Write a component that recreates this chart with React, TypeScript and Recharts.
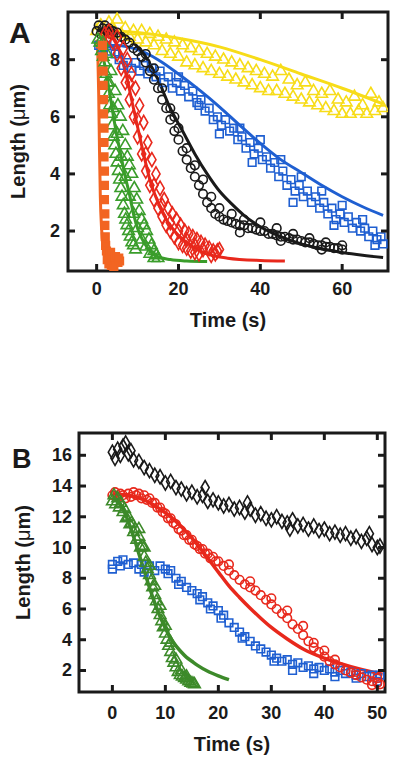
import {
  ComposedChart,
  Label,
  Line,
  ReferenceArea,
  Scatter,
  XAxis,
  YAxis,
  ZAxis,
} from "recharts";

// ---------- panel A : [time (s), length (um)] ----------
const aOrangePts = [
  [1.4, 8.5], [1.5, 8.1], [1.6, 7.6], [1.6, 7.1], [1.7, 6.6], [1.7, 6.1], [1.8, 5.6],
  [1.8, 5.1], [1.8, 4.6], [1.9, 4.1], [1.9, 3.6], [1.9, 3.1], [2.0, 2.6], [2.0, 2.2],
  [2.1, 1.8], [2.2, 1.5], [2.4, 1.3], [2.8, 1.2], [3.2, 1.1], [3.6, 1.0], [4.0, 0.95],
  [4.4, 0.9], [4.8, 0.95], [5.2, 0.9], [5.6, 0.95], [3.0, 0.85], [3.6, 0.8], [4.2, 0.75],
  [2.6, 1.0], [3.4, 1.25], [4.6, 1.1], [5.4, 1.05],
];
const aOrangeFit = [
  [0, 8.7], [0.3, 8.1], [0.5, 6.8], [0.7, 4.8], [0.9, 3.2], [1.2, 2.1], [1.6, 1.45],
  [2.2, 1.12], [3.5, 0.97], [5.5, 0.92],
];
const aGreenPts = [
  [0.3, 8.7], [0.8, 8.6], [1.2, 8.3], [1.6, 8.1], [2.0, 7.9], [2.3, 7.5], [2.6, 7.2],
  [2.9, 6.8], [3.2, 6.4], [3.5, 6.1], [3.8, 5.7], [4.1, 5.3], [4.4, 5.0], [4.7, 4.7],
  [5.0, 4.4], [5.3, 4.1], [5.6, 3.8], [5.9, 3.5], [6.2, 3.2], [6.5, 2.9], [6.8, 2.6],
  [7.1, 2.4], [7.4, 2.2], [7.8, 2.0], [8.2, 1.8], [8.6, 1.6], [9.0, 1.5], [9.5, 1.35],
  [1.5, 8.6], [2.5, 8.2], [3.5, 7.6], [4.5, 6.9], [5.2, 6.4], [5.8, 6.0], [6.4, 5.5],
  [7.0, 5.0], [7.5, 4.6], [8.0, 4.3], [8.6, 4.0], [9.2, 3.5], [9.8, 3.1], [10.4, 2.7],
  [11.0, 2.4], [11.6, 2.2], [12.2, 2.0], [12.8, 1.7], [13.4, 1.5], [14.0, 1.3],
  [14.6, 1.15], [15.0, 1.05], [3.0, 7.2], [4.0, 6.3], [5.0, 5.4], [6.0, 4.6], [7.0, 3.9],
  [8.0, 3.2], [9.0, 2.6], [10.0, 2.1], [11.0, 1.7], [12.0, 1.45], [13.0, 1.2], [14.0, 1.05],
];
const aGreenFit = [
  [0, 8.7], [1, 8.4], [2, 7.8], [3, 7.0], [4, 6.1], [5, 5.3], [6, 4.6], [7, 3.9], [8, 3.3],
  [9, 2.6], [10, 2.1], [11, 1.75], [12, 1.5], [13, 1.3], [15, 1.1], [18, 1.0], [22, 0.95],
  [27, 0.93],
];
const aRedPts = [
  [2, 8.9], [3, 8.8], [4, 8.6], [5, 8.2], [6, 7.7], [7, 7.2], [8, 6.6], [9, 6.0], [10, 5.3],
  [11, 4.7], [12, 4.1], [13, 3.6], [14, 3.1], [15, 2.8], [16, 2.5], [17, 2.2], [18, 2.0],
  [19, 1.8], [20, 1.6], [21, 1.5], [22, 1.4], [23, 1.3], [24, 1.25], [25, 1.2],
  [3, 9.0], [5, 8.8], [6.5, 8.4], [7.5, 8.0], [8.5, 7.5], [9.5, 7.0], [10.5, 6.4],
  [11.5, 5.8], [12.5, 5.1], [13.5, 4.5], [14.5, 4.0], [15.5, 3.5], [16.5, 3.1], [17.5, 2.8],
  [18.5, 2.6], [19.5, 2.4], [20.5, 2.2], [21.5, 2.0], [22.5, 1.9], [23.5, 1.8], [24.5, 1.7],
  [25.5, 1.6], [26.5, 1.5], [27.5, 1.4], [28.5, 1.3], [29.5, 1.3], [28, 1.15], [29, 1.2],
  [30, 1.35], [8, 7.2], [10, 5.9], [12, 4.7], [14, 3.6], [16, 2.9], [18, 2.3], [20, 2.0],
  [22, 1.7], [24, 1.5], [26, 1.35],
];
const aRedFit = [
  [0, 8.9], [3, 8.85], [5, 8.5], [7, 7.6], [9, 6.3], [11, 5.0], [13, 3.8], [15, 3.0],
  [17, 2.4], [19, 2.0], [22, 1.6], [26, 1.25], [32, 1.05], [40, 0.97], [46, 0.95],
];
const aBlackPts = [
  [0, 9.0], [0.5, 9.2], [1, 8.9], [1.5, 9.1], [2, 9.2], [2.5, 9.0], [3, 9.1], [3.5, 8.9],
  [4, 9.0], [5, 8.95], [6, 8.8], [7, 8.7], [8, 8.6], [9, 8.4], [10, 8.3], [11, 8.1],
  [12, 7.9], [13, 7.6], [14, 7.3], [15, 7.0], [16, 6.6], [17, 6.3], [18, 5.9], [19, 5.5],
  [20, 5.2], [21, 4.8], [22, 4.5], [23, 4.2], [24, 3.9], [25, 3.6], [26, 3.3], [27, 3.0],
  [28, 2.8], [29, 2.6], [30, 2.5], [31, 2.4], [32, 2.35], [33, 2.3], [34, 2.25], [35, 2.2],
  [36, 2.2], [37, 2.1], [38, 2.1], [39, 2.05], [40, 2.0], [41, 2.0], [42, 1.9], [43, 1.9],
  [44, 1.85], [45, 1.8], [46, 1.8], [47, 1.75], [48, 1.7], [49, 1.7], [50, 1.65], [51, 1.6],
  [52, 1.6], [53, 1.55], [54, 1.5], [55, 1.5], [56, 1.45], [57, 1.45], [58, 1.4], [59, 1.4],
  [60, 1.35], [12, 8.2], [14, 7.7], [16, 7.0], [18, 6.3], [19, 6.0], [20, 5.6], [22, 4.9],
  [24, 4.3], [26, 3.8], [28, 3.2], [30, 2.8], [33, 2.6], [36, 2.4], [40, 2.3], [44, 2.1],
  [48, 1.9], [52, 1.75], [56, 1.6], [60, 1.5], [35, 1.95], [45, 1.65], [55, 1.35],
];
const aBlackFit = [
  [0, 9.0], [3, 9.05], [6, 8.9], [9, 8.6], [12, 8.1], [15, 7.3], [18, 6.3], [21, 5.5],
  [24, 4.7], [27, 4.0], [30, 3.4], [33, 2.95], [36, 2.55], [40, 2.15], [45, 1.8],
  [50, 1.55], [55, 1.38], [60, 1.25], [65, 1.15], [70, 1.07],
];
const aBluePts = [
  [0.5, 8.5], [1.5, 8.4], [2.5, 8.5], [3.5, 8.3], [4.5, 8.2], [5.5, 8.0], [6.5, 7.8],
  [7.5, 7.9], [8.5, 7.7], [9.5, 7.9], [10.5, 7.6], [11.5, 7.8], [12.5, 7.5], [13.5, 7.7],
  [14.5, 7.4], [15.5, 7.6], [16.5, 7.2], [17.5, 7.4], [18.5, 7.0], [19.5, 7.2], [20.5, 6.9],
  [21.5, 7.1], [22.5, 6.7], [23.5, 6.9], [24.5, 6.5], [25.5, 6.6], [26.5, 6.2], [27.5, 6.3],
  [28.5, 5.9], [29.5, 6.0], [30.5, 5.7], [31.5, 5.9], [32.5, 5.5], [33.5, 5.6], [34.5, 5.2],
  [35.5, 5.3], [36.5, 4.9], [37.5, 5.1], [38.5, 4.7], [39.5, 4.9], [40.5, 4.5], [41.5, 4.6],
  [42.5, 4.2], [43.5, 4.4], [44.5, 3.9], [45.5, 4.1], [46.5, 3.6], [47.5, 3.8], [48.5, 3.4],
  [49.5, 3.6], [50.5, 3.2], [51.5, 3.4], [52.5, 3.0], [53.5, 3.2], [54.5, 2.8], [55.5, 3.0],
  [56.5, 2.6], [57.5, 2.8], [58.5, 2.4], [59.5, 2.6], [60.5, 2.3], [61.5, 2.5], [62.5, 2.1],
  [63.5, 2.3], [64.5, 2.0], [65.5, 2.1], [66.5, 1.8], [67.5, 2.0], [68.5, 1.7], [69.5, 1.8],
  [70, 1.55], [20, 7.4], [25, 6.4], [30, 5.4], [35, 5.6], [40, 5.2], [45, 4.5], [50, 3.9],
  [55, 3.4], [60, 2.9], [65, 2.4], [38, 4.4], [48, 3.0], [58, 2.2], [68, 1.5],
];
const aBlueFit = [
  [0, 8.5], [5, 8.5], [10, 8.35], [15, 8.0], [20, 7.5], [25, 6.95], [30, 6.35], [35, 5.7],
  [40, 5.07], [45, 4.5], [50, 4.05], [55, 3.6], [60, 3.2], [65, 2.85], [70, 2.55],
];
const aYellowPts = [
  [0, 9.0], [1, 9.2], [2, 8.9], [3, 9.3], [4, 9.1], [5, 9.4], [6, 8.9], [7, 9.1], [8, 8.8],
  [9, 9.0], [10, 8.7], [11, 9.0], [12, 8.6], [13, 8.9], [14, 8.5], [15, 8.8], [16, 8.3],
  [17, 8.7], [18, 8.2], [19, 8.6], [20, 8.1], [21, 8.5], [22, 7.9], [23, 8.4], [24, 7.8],
  [25, 8.3], [26, 7.7], [27, 8.2], [28, 7.6], [29, 8.1], [30, 7.5], [31, 8.0], [32, 7.4],
  [33, 7.9], [34, 7.3], [35, 7.8], [36, 7.2], [37, 7.7], [38, 7.1], [39, 7.6], [40, 7.0],
  [41, 7.5], [42, 6.9], [43, 7.4], [44, 6.9], [45, 7.6], [46, 6.8], [47, 7.3], [48, 6.7],
  [49, 7.1], [50, 6.6], [51, 7.2], [52, 6.5], [53, 6.9], [54, 6.4], [55, 6.8], [56, 6.3],
  [57, 6.9], [58, 6.2], [59, 6.6], [60, 6.1], [61, 6.5], [62, 6.1], [63, 6.7], [64, 6.2],
  [65, 6.4], [66, 6.1], [67, 6.8], [68, 6.2], [69, 6.5], [70, 6.3],
];
const aYellowFit = [
  [0, 9.05], [10, 8.95], [20, 8.75], [30, 8.45], [40, 8.0], [50, 7.5], [60, 7.0], [70, 6.45],
];

// ---------- panel B ----------
const bBlackPts = [
  [0, 16.2], [0.5, 15.8], [1, 16.4], [1.5, 16.0], [2, 16.6], [2.5, 16.8], [3, 16.1],
  [3.5, 16.3], [4, 15.7], [5, 15.6], [6, 15.2], [7, 15.0], [8, 14.7], [9, 14.6], [10, 14.2],
  [11, 14.3], [12, 13.9], [13, 13.8], [14, 13.5], [15, 13.6], [16, 13.3], [17, 13.4],
  [18, 13.0], [19, 13.1], [20, 12.9], [21, 12.7], [22, 12.8], [23, 12.5], [24, 12.6],
  [25, 12.3], [26, 12.5], [27, 12.1], [28, 12.2], [29, 11.9], [30, 11.8], [31, 12.0],
  [32, 11.7], [33, 11.6], [34, 11.8], [35, 11.4], [36, 11.5], [37, 11.2], [38, 11.4],
  [39, 11.1], [40, 11.2], [41, 10.9], [42, 11.0], [43, 10.8], [44, 10.9], [45, 10.6],
  [46, 10.7], [47, 10.4], [48, 10.6], [49, 10.2], [50, 10.0], [50.5, 10.1], [17.5, 13.9],
  [25.5, 12.9], [48.5, 10.9], [33.5, 11.2],
];
const bRedPts = [
  [0, 13.4], [0.5, 13.6], [1, 13.3], [1.5, 13.5], [2, 13.4], [2.5, 13.2], [3, 13.5],
  [3.5, 13.3], [4, 13.6], [4.5, 13.4], [5, 13.5], [5.5, 13.2], [6, 13.4], [6.5, 13.1],
  [7, 13.2], [7.5, 12.9], [8, 12.9], [8.5, 12.6], [9, 12.6], [9.5, 12.3], [10, 12.2],
  [10.5, 11.9], [11, 11.9], [11.5, 11.6], [12, 11.5], [12.5, 11.2], [13, 11.1], [13.5, 10.8],
  [14, 10.8], [14.5, 10.5], [15, 10.5], [15.5, 10.2], [16, 10.1], [16.5, 9.9], [17, 9.9],
  [17.5, 9.6], [18, 9.6], [18.5, 9.3], [19, 9.4], [19.5, 9.1], [20, 9.1], [21, 8.8],
  [22, 8.5], [23, 8.2], [24, 7.9], [25, 7.6], [26, 7.4], [27, 7.2], [28, 6.9], [29, 6.6],
  [30, 6.3], [31, 6.0], [32, 5.7], [33, 5.4], [34, 5.0], [35, 4.7], [36, 4.3], [37, 3.9],
  [38, 3.5], [39, 3.2], [40, 2.9], [41, 2.6], [42, 2.4], [43, 2.2], [44, 2.0], [45, 1.85],
  [46, 1.7], [47, 1.55], [48, 1.4], [49, 1.3], [50, 1.2], [50.5, 1.1], [22, 8.9], [26, 7.8],
  [30, 6.7], [33, 5.9], [36, 4.9], [38, 3.8], [40, 3.3], [42, 2.7], [46, 1.9], [49, 1.05],
  [50, 1.5],
];
const bRedFit = [
  [0, 13.5], [3, 13.4], [6, 13.1], [9, 12.5], [12, 11.7], [14, 11.0], [16, 10.2],
  [18, 9.3], [20, 8.4], [22, 7.5], [24, 6.75], [26, 6.05], [28, 5.4], [30, 4.8],
  [33, 4.05], [36, 3.4], [40, 2.8], [45, 2.25], [50, 1.83], [51, 1.76],
];
const bGreenPts = [
  [0, 13.0], [0.3, 13.4], [0.6, 12.8], [1, 13.2], [1.3, 12.6], [1.6, 12.9], [2, 12.3],
  [2.3, 12.5], [2.6, 11.9], [3, 12.0], [3.3, 11.5], [3.6, 11.6], [4, 11.0], [4.3, 11.2],
  [4.6, 10.5], [5, 10.7], [5.3, 10.0], [5.6, 10.1], [6, 9.4], [6.3, 9.0], [6.6, 8.6],
  [7, 8.2], [7.3, 7.8], [7.6, 7.4], [8, 6.9], [8.3, 6.5], [8.6, 6.0], [9, 5.6], [9.3, 5.2],
  [9.6, 4.8], [10, 4.4], [10.3, 4.0], [10.6, 3.6], [11, 3.2], [11.3, 2.8], [11.6, 2.5],
  [12, 2.2], [12.4, 1.9], [12.8, 1.7], [13.2, 1.6], [13.6, 1.5], [14, 1.4], [14.4, 1.3],
  [14.8, 1.2], [15.2, 1.15], [15.5, 1.1], [5, 11.2], [6, 10.0], [7, 8.8], [8, 7.5],
  [9, 6.2], [10, 4.9], [11, 3.8], [12, 2.7], [13, 2.0], [14, 1.6],
];
const bGreenFit = [
  [0, 13.3], [1, 13.1], [2, 12.5], [3, 11.7], [4, 10.7], [5, 9.6], [6, 8.5], [7, 7.4],
  [8, 6.4], [9, 5.5], [10, 4.75], [11, 4.1], [12, 3.6], [13, 3.2], [14, 2.85], [15, 2.6],
  [16, 2.35], [18, 1.95], [20, 1.65], [22, 1.4],
];
const bBluePts = [
  [0, 8.9], [0, 8.6], [1, 9.1], [1.5, 8.8], [2, 9.2], [3, 8.9], [4, 9.0], [5, 8.6],
  [5.5, 8.9], [6, 8.4], [7, 8.8], [8, 8.5], [9, 8.8], [10, 8.6], [10.5, 8.3], [11, 8.5],
  [12, 8.0], [12.5, 7.6], [13, 7.8], [14, 7.4], [15, 7.2], [16, 7.0], [16.5, 6.6], [17, 6.8],
  [18, 6.4], [18.5, 6.0], [19, 6.2], [20, 5.9], [20.5, 5.4], [21, 5.6], [22, 5.1], [23, 4.8],
  [24, 4.5], [24.5, 4.1], [25, 4.2], [26, 3.9], [27, 3.6], [28, 3.4], [29, 3.2], [30, 3.0],
  [30.5, 2.6], [31, 2.8], [32, 2.6], [33, 2.7], [34, 2.4], [35, 2.5], [36, 2.2], [37, 2.3],
  [38, 2.1], [39, 2.2], [40, 2.0], [41, 2.1], [42, 1.9], [43, 2.0], [44, 1.8], [45, 1.9],
  [46, 1.7], [47, 1.8], [48, 1.6], [49, 1.7], [50, 1.5], [50.5, 1.7], [34, 2.0], [38, 1.8],
  [42, 1.6], [46, 1.5], [50, 1.3],
];

const aXTicks = [0, 20, 40, 60];
const aYTicks = [2, 4, 6, 8];
const bXTicks = [0, 10, 20, 30, 40, 50];
const bYTicks = [2, 4, 6, 8, 10, 12, 14, 16];

const FONT = '"Liberation Sans", Arial, Helvetica, sans-serif';
const INK = "#1a1a1a";

const pts = (arr: number[][]) => arr.map(([t, L]) => ({ t, L }));

type Frame = { left: number; right: number; top: number; bottom: number };

function makeXTick(f: Frame) {
  return (props: any) => {
    const { x, y, payload } = props;
    return (
      <g>
        <line x1={x} x2={x} y1={f.bottom - 7} y2={f.bottom} stroke={INK} strokeWidth={3} />
        <line x1={x} x2={x} y1={f.top} y2={f.top + 7} stroke={INK} strokeWidth={3} />
        <text x={x} y={y} textAnchor="middle" dominantBaseline="central"
          fontFamily={FONT} fontWeight="bold" fontSize={18} fill={INK}>
          {payload.value}
        </text>
      </g>
    );
  };
}

function makeYTick(f: Frame) {
  return (props: any) => {
    const { x, y, payload } = props;
    return (
      <g>
        <line x1={f.left} x2={f.left + 7} y1={y} y2={y} stroke={INK} strokeWidth={3} />
        <line x1={f.right - 7} x2={f.right} y1={y} y2={y} stroke={INK} strokeWidth={3} />
        <text x={x} y={y} textAnchor="end" dominantBaseline="central"
          fontFamily={FONT} fontWeight="bold" fontSize={18} fill={INK}>
          {payload.value}
        </text>
      </g>
    );
  };
}

function yTitle(offset: number) {
  return (props: any) => {
    const vb = props.viewBox;
    const cx = vb.x + offset;
    const cy = vb.y + vb.height / 2;
    return (
      <text x={cx} y={cy} transform={`rotate(-90, ${cx}, ${cy})`} textAnchor="middle"
        dominantBaseline="central" fontFamily={FONT} fontWeight="bold" fontSize={20} fill={INK}>
        Length (<tspan fontWeight="normal">μ</tspan>m)
      </text>
    );
  };
}

function xTitle(baseline: number) {
  return (props: any) => {
    const vb = props.viewBox;
    return (
      <text x={vb.x + vb.width / 2} y={vb.y + baseline} textAnchor="middle"
        fontFamily={FONT} fontWeight="bold" fontSize={20} fill={INK}>
        Time (s)
      </text>
    );
  };
}

const frameA: Frame = { left: 68, right: 388, top: 12, bottom: 271 };
const frameB: Frame = { left: 79, right: 385, top: 33, bottom: 292 };
const aXDomain = [-7, 71.2];
const aYDomain = [0.6, 9.67];
const bXDomain = [-6.3, 51.45];
const bYDomain = [0.6, 17.45];

function scatter(key: string, data: number[][], shape: any, color: string, filled = false) {
  return (
    <Scatter
      key={key}
      data={pts(data)}
      dataKey="L"
      shape={shape}
      fill={filled ? color : "none"}
      stroke={color}
      strokeWidth={1.6}
      isAnimationActive={false}
    />
  );
}

function fit(key: string, data: number[][], color: string, width = 3) {
  return (
    <Line
      key={key}
      data={pts(data)}
      dataKey="L"
      type="monotone"
      stroke={color}
      strokeWidth={width}
      dot={false}
      activeDot={false}
      isAnimationActive={false}
    />
  );
}

export default function App() {
  const orange = "#f26522";
  const red = "#e8281c";
  const green = "#3a9d2b";
  const greenB = "#3d8a2a";
  const blue = "#1f5fd1";
  const yellow = "#f7dc18";

  return (
    <div style={{ position: "absolute", left: 0, top: 0, width: 400, height: 765, background: "#fff" }}>
      <svg width={400} height={765} style={{ position: "absolute", left: 0, top: 0, pointerEvents: "none" }}>
        <text x={9} y={43} fontFamily={FONT} fontWeight="bold" fontSize={30} fill={INK}>A</text>
        <text x={12} y={468} fontFamily={FONT} fontWeight="bold" fontSize={27} fill={INK}>B</text>
      </svg>

      <div style={{ position: "absolute", left: 0, top: 0 }}>
        <ComposedChart width={400} height={340} margin={{ top: 12, right: 12, bottom: 0, left: 8 }}>
          <XAxis type="number" dataKey="t" domain={aXDomain} ticks={aXTicks} allowDataOverflow
            height={69} axisLine={false} tickLine={false} tickSize={0} tickMargin={18}
            tick={makeXTick(frameA)}>
            <Label content={xTitle(56)} />
          </XAxis>
          <YAxis type="number" dataKey="L" domain={aYDomain} ticks={aYTicks} allowDataOverflow
            width={60} axisLine={false} tickLine={false} tickSize={0} tickMargin={8}
            tick={makeYTick(frameA)}>
            <Label content={yTitle(10)} />
          </YAxis>
          <ZAxis range={[58, 58]} />
          {scatter("ay", aYellowPts, "triangle", yellow)}
          {fit("ayf", aYellowFit, yellow)}
          {scatter("ab", aBluePts, "square", blue)}
          {fit("abf", aBlueFit, blue)}
          {scatter("ak", aBlackPts, "circle", INK)}
          {fit("akf", aBlackFit, INK)}
          {scatter("ar", aRedPts, "diamond", red)}
          {fit("arf", aRedFit, red)}
          {scatter("ag", aGreenPts, "triangle", green)}
          {fit("agf", aGreenFit, green)}
          {fit("aof", aOrangeFit, orange)}
          {scatter("ao", aOrangePts, "square", orange, true)}
          <ReferenceArea x1={aXDomain[0]} x2={aXDomain[1]} y1={aYDomain[0]} y2={aYDomain[1]}
            fill="none" stroke={INK} strokeWidth={3} ifOverflow="visible" />
        </ComposedChart>
      </div>

      <div style={{ position: "absolute", left: 0, top: 400 }}>
        <ComposedChart width={400} height={365} margin={{ top: 33, right: 15, bottom: 0, left: 19 }}>
          <XAxis type="number" dataKey="t" domain={bXDomain} ticks={bXTicks} allowDataOverflow
            height={73} axisLine={false} tickLine={false} tickSize={0} tickMargin={21}
            tick={makeXTick(frameB)}>
            <Label content={xTitle(59)} />
          </XAxis>
          <YAxis type="number" dataKey="L" domain={bYDomain} ticks={bYTicks} allowDataOverflow
            width={60} axisLine={false} tickLine={false} tickSize={0} tickMargin={7}
            tick={makeYTick(frameB)}>
            <Label content={yTitle(4)} />
          </YAxis>
          <ZAxis range={[58, 58]} />
          {scatter("bk", bBlackPts, "diamond", INK)}
          {scatter("bb", bBluePts, "square", blue)}
          {scatter("br", bRedPts, "circle", red)}
          {fit("brf", bRedFit, red, 3.5)}
          {scatter("bg", bGreenPts, "triangle", greenB)}
          {fit("bgf", bGreenFit, greenB, 3.5)}
          <ReferenceArea x1={bXDomain[0]} x2={bXDomain[1]} y1={bYDomain[0]} y2={bYDomain[1]}
            fill="none" stroke={INK} strokeWidth={3} ifOverflow="visible" />
        </ComposedChart>
      </div>
    </div>
  );
}
